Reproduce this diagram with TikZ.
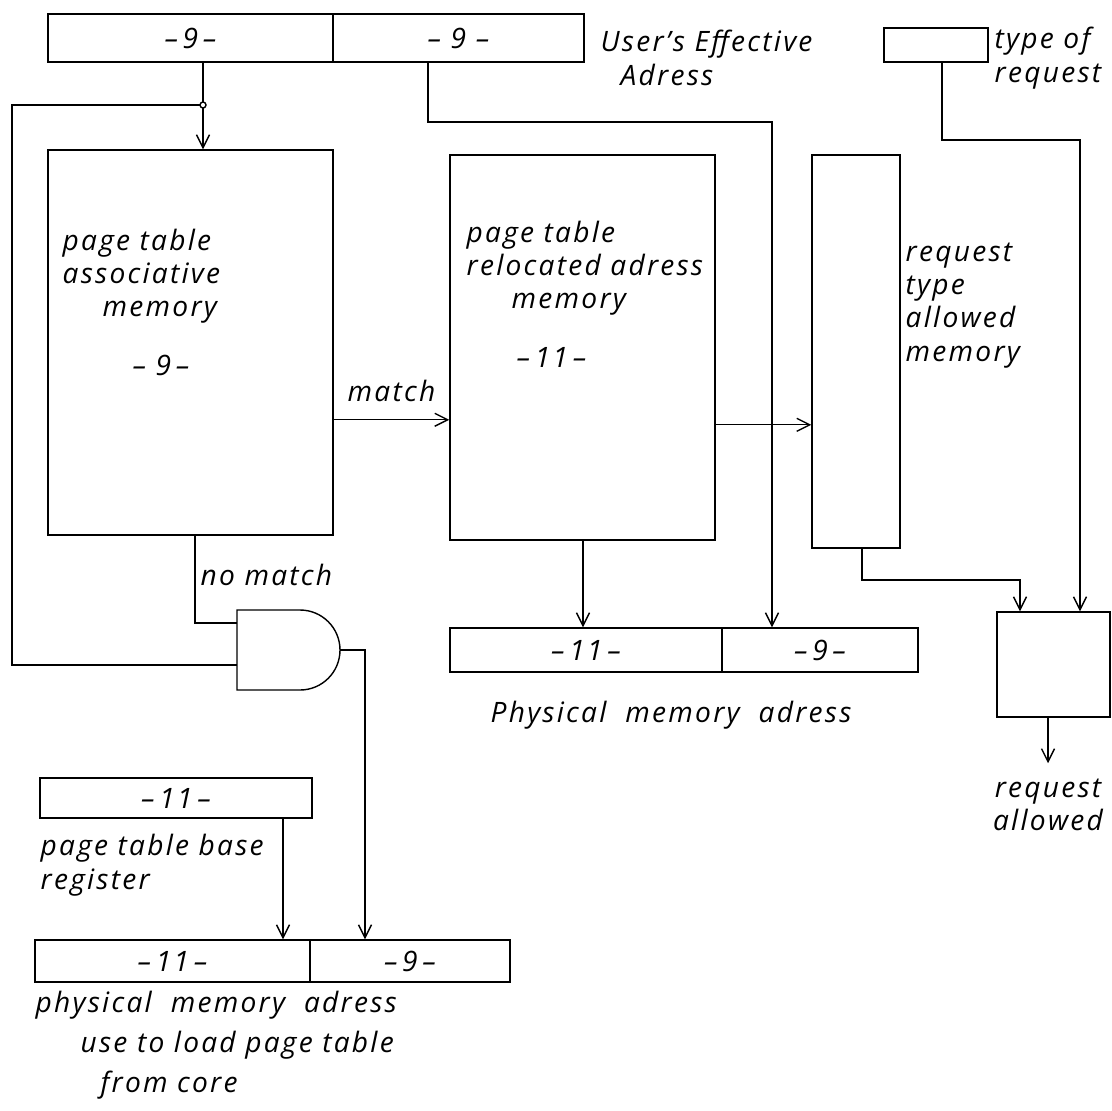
\documentclass[tikz,border=0pt]{standalone}
\usepackage{fontspec}
\setmainfont{Open Sans}[LetterSpace=8]
\usetikzlibrary{arrows.meta, positioning, calc, fit}

\begin{document}
\begin{tikzpicture}[x=0.02cm, y=-0.02cm, line width=0.8pt,
  reg/.style={draw, inner sep=0pt},
  txt/.style={font=\fontsize{16}{19}\selectfont\itshape, inner sep=0pt, align=left},
  arr/.style={-{Straight Barb[length=2.6mm, width=2.6mm]}},
  jdot/.style={circle, draw, fill=white, inner sep=0pt, minimum size=1.2mm}]
  \useasboundingbox (0,0) rectangle (1112,1110);
  % registers and memories
  \node[reg, fit={(48,14) (333,62)}, label={[txt]center:--\,9\,--}]     (ueaL)  {};
  \node[reg, fit={(333,14) (584,62)}, label={[txt]center:--\ 9\ --}]    (ueaR)  {};
  \node[reg, fit={(884,28) (988,62)}]                                   (treq)  {};
  \node[reg, fit={(48,150) (333,535)}]                                  (assoc) {};
  \node[reg, fit={(450,155) (715,540)}]                                 (reloc) {};
  \node[reg, fit={(812,155) (900,548)}]                                 (rtype) {};
  \node[reg, fit={(450,628) (722,672)}, label={[txt]center:--\,11\,--}] (physL) {};
  \node[reg, fit={(722,628) (918,672)}, label={[txt]center:--\,9\,--}]  (physR) {};
  \node[reg, fit={(997,612) (1110,717)}]                                (fin)   {};
  \node[reg, fit={(40,778) (312,818)}, label={[txt]center:--\,11\,--}]  (ptbr)  {};
  \node[reg, fit={(35,940) (310,982)}, label={[txt]center:--\,11\,--}]  (lowL)  {};
  \node[reg, fit={(310,940) (510,982)}, label={[txt]center:--\,9\,--}]  (lowR)  {};
  % texts
  \node[txt, anchor=west] (ueaT) at (600,58) {User's Effective\\\hspace*{4mm}Adress};
  \node[txt, anchor=west] (treqT) at (994,58) {type of\\request};
  \node[txt, anchor=north west] (assocT) at (62,228)
       {page table\\associative\\\hspace*{8mm}memory\\[5mm]\hspace*{14mm}--\ 9\,--};
  \node[txt, anchor=north west] (relocT) at (466,220)
       {page table\\relocated adress\\\hspace*{9mm}memory\\[5mm]\hspace*{10mm}--\,11\,--};
  \node[txt, anchor=north west] (rtypeT) at (905,242) {request\\type\\allowed\\memory};
  \node[txt, anchor=west] (nmT) at (200,575) {no match};
  \node[txt, anchor=west] (physT) at (490,715) {Physical \ memory \ adress};
  \node[txt, align=center] (raT) at (1048,805) {request\\allowed};
  \node[txt, anchor=west] (ptbrT) at (40,865) {page table base\\register};
  \node[txt, anchor=north west, font=\fontsize{16}{23}\selectfont\itshape] (lowT) at (35,990)
       {physical \ memory \ adress\\\hspace*{9mm}use to load page table\\\hspace*{13mm}from core};
  % and gate
  \draw (300,610) -- (237,610) -- (237,690) -- (300,690) arc[start angle=90, end angle=-90, radius=40];
  \coordinate (gin1) at (237,623);
  \coordinate (gin2) at (237,665);
  \coordinate (gout) at (340,650);
  % connectors
  \coordinate (jn) at (203,105);
  \coordinate (lp) at (12,105);
  \draw[arr] (ueaL.south -| jn) -- (jn) -- (assoc.north -| jn);
  \draw (jn) -- (lp) |- (gin2);
  \node[jdot] at (jn) {};
  \coordinate (b1) at (428,122);
  \coordinate (b2) at (772,122);
  \draw[arr] (ueaR.south -| b1) -- (b1) -- (b2) -- (physR.north -| b2);
  \coordinate (t1) at (942,140);
  \coordinate (t2) at (1080,140);
  \draw[arr] (treq.south -| t1) -- (t1) -- (t2) -- (fin.north -| t2);
  \draw[arr] ($(assoc.south east)!0.3!(assoc.north east)$) coordinate (m1) -- (m1 -| reloc.west)
     node[txt, midway, above=3.5mm] {match};
  \draw[arr] ($(reloc.south east)!0.3!(reloc.north east)$) coordinate (m2) -- (m2 -| rtype.west);
  \coordinate (nm) at (195,535);
  \draw (nm) |- (gin1);
  \coordinate (rl) at (583,540);
  \draw[arr] (rl) -- (rl |- physL.north);
  \coordinate (r1) at (862,548);
  \coordinate (r2) at (1020,580);
  \draw[arr] (r1) |- (r2) -- (fin.north -| r2);
  \coordinate (g1) at (365,650);
  \draw[arr] (gout) -- (g1) -- (lowR.north -| g1);
  \coordinate (p1) at (283,818);
  \draw[arr] (p1) -- (p1 |- lowL.north);
  \draw[arr] (fin.south -| raT) -- ($(raT.north)+(0,-15)$);
\end{tikzpicture}
\end{document}
